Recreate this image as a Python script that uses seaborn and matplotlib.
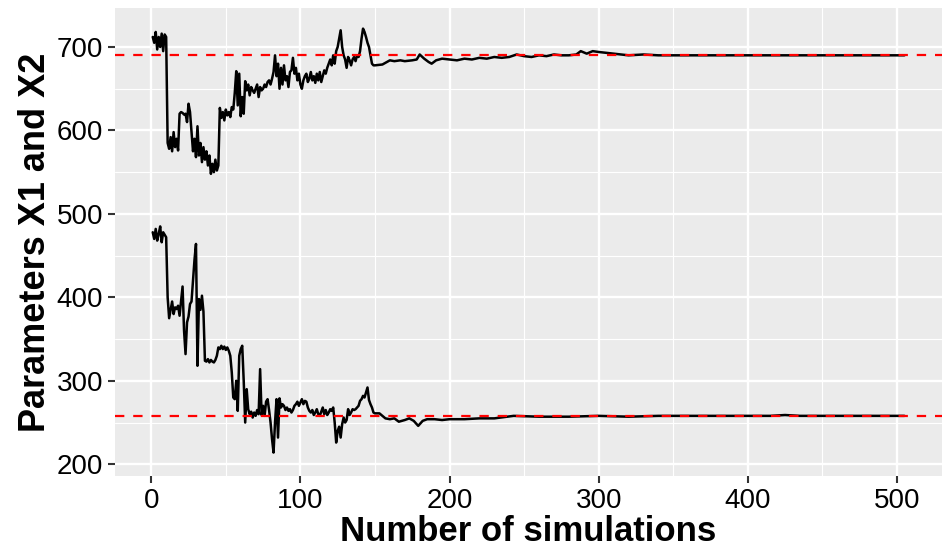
import matplotlib
matplotlib.use("Agg")
import matplotlib.pyplot as plt
import seaborn as sns
import pandas as pd
from matplotlib.ticker import MultipleLocator

# ---- data ----
x1_sims = list(range(1, 151)) + [155, 158, 160, 163, 167, 170, 175, 178, 180, 183, 186, 188, 191,
                                  195, 200, 205, 210, 215, 220, 225, 230, 235, 240, 245, 250, 255,
                                  260, 265, 270, 275, 280, 285, 288, 292, 296, 300, 305, 310, 315,
                                  320, 330, 340, 350, 360, 370, 380, 390, 400, 410, 420, 430, 440,
                                  450, 460, 470, 480, 490, 500, 505]
x1_vals = [712, 705, 718, 697, 712, 700, 716, 695, 715, 712,
           585, 578, 592, 575, 598, 580, 590, 576, 620, 622,
           621, 619, 620, 610, 632, 622, 598, 575, 590, 568,
           605, 570, 585, 562, 580, 565, 575, 558, 570, 548,
           560, 550, 565, 552, 558, 627, 615, 622, 612, 625,
           618, 622, 616, 628, 625, 645, 671, 630, 668, 617,
           640, 620, 659, 648, 655, 642, 652, 648, 645, 650,
           655, 640, 652, 648, 650, 655, 652, 658, 660, 655,
           662, 670, 690, 665, 680, 650, 675, 655, 678, 660,
           665, 652, 670, 672, 687, 668, 675, 660, 668, 655,
           650, 660, 665, 668, 658, 662, 670, 660, 665, 657,
           668, 660, 670, 658, 665, 672, 668, 675, 680, 685,
           678, 690, 680, 695, 700, 710, 720, 700, 690, 685,
           675, 688, 684, 678, 685, 688, 683, 690, 688, 695,
           710, 722, 718, 712, 705, 700, 690, 680, 678, 678,
           679, 682, 684, 683, 684, 683, 684, 685, 691, 686, 682, 680, 684,
           686, 685, 684, 686, 685, 687, 686, 688, 687, 688, 691, 689, 688,
           690, 689, 691, 690, 690, 691, 695, 692, 695, 694, 693, 692, 691,
           690, 691, 690, 690, 690, 690, 690, 690, 690, 690, 690, 690, 690,
           690, 690, 690, 690, 690, 690, 690]

x2_sims = list(range(1, 151)) + [153, 155, 157, 160, 163, 166, 170, 173, 176, 179, 182, 185,
                                  190, 195, 200, 210, 220, 230, 243, 260, 280, 300, 320, 340,
                                  360, 380, 400, 415, 425, 435, 450, 470, 490, 505]
x2_vals = [478, 470, 482, 468, 476, 485, 466, 478, 475, 472,
           400, 375, 385, 395, 380, 388, 386, 390, 378, 395,
           413, 360, 332, 370, 377, 392, 395, 420, 445, 464,
           318, 398, 385, 402, 383, 324, 323, 326, 322, 325,
           323, 322, 325, 330, 340, 338, 342, 338, 341, 337,
           340, 336, 330, 310, 280, 278, 300, 264, 330, 338,
           342, 300, 250, 290, 266, 260, 263, 256, 262, 258,
           265, 260, 314, 259, 270, 258, 275, 278, 265, 250,
           230, 214, 250, 278, 232, 279, 268, 272, 270, 265,
           268, 264, 266, 262, 265, 270, 272, 275, 270, 274,
           278, 272, 276, 275, 268, 264, 262, 265, 259, 262,
           266, 260, 258, 263, 268, 260, 265, 259, 262, 266,
           264, 268, 250, 226, 240, 245, 232, 248, 256, 250,
           253, 266, 259, 262, 266, 265, 266, 268, 270, 276,
           278, 282, 280, 286, 292, 277, 272, 268, 262, 261,
           261, 258, 255, 254, 255, 251, 253, 255, 252, 246, 252, 254,
           254, 253, 254, 254, 255, 255, 258, 257, 257, 258, 257, 258,
           258, 258, 258, 258, 259, 258, 258, 258, 258, 258]

ref_lines = [690, 258]
x_ticks = [0, 100, 200, 300, 400, 500]
y_ticks = [200, 300, 400, 500, 600, 700]

df1 = pd.DataFrame({"sim": x1_sims, "value": x1_vals})
df2 = pd.DataFrame({"sim": x2_sims, "value": x2_vals})

sns.set_theme(style="darkgrid")
plt.rcParams["font.family"] = ["Liberation Sans", "DejaVu Sans"]

fig = plt.figure(figsize=(9.44, 5.55), dpi=100)
ax = fig.add_axes([115 / 944, 1 - 475.7 / 555, 827 / 944, 467.7 / 555])
ax.set_facecolor("#EBEBEB")

sns.lineplot(data=df1, x="sim", y="value", color="black", linewidth=1.8, ax=ax,
             estimator=None, sort=False)
sns.lineplot(data=df2, x="sim", y="value", color="black", linewidth=1.8, ax=ax,
             estimator=None, sort=False)
for r in ref_lines:
    ax.axhline(r, color="#FF0000", linestyle=(0, (4.2, 4.0)), linewidth=1.6, zorder=3)

ax.set_xlim(-24.3, 530.2)
ax.set_ylim(186.3, 746.7)
ax.set_xticks(x_ticks)
ax.set_yticks(y_ticks)
ax.xaxis.set_minor_locator(MultipleLocator(50))
ax.yaxis.set_minor_locator(MultipleLocator(50))
ax.grid(which="major", color="white", linewidth=1.7)
ax.grid(which="minor", color="white", linewidth=0.8)
ax.set_axisbelow(True)
for s in ax.spines.values():
    s.set_visible(False)
ax.tick_params(axis="both", which="major", labelsize=20, labelcolor="black",
               length=5, width=1.5, color="#333333", bottom=True, left=True, pad=3.5)
ax.tick_params(axis="both", which="minor", length=0)
ax.set_xlabel("Number of simulations", fontsize=25, fontweight="bold", labelpad=1,
              color="black")
ax.set_ylabel("Parameters X1 and X2", fontsize=26, fontweight="bold", labelpad=3,
              color="black")

fig.savefig("out.png", dpi=100)
